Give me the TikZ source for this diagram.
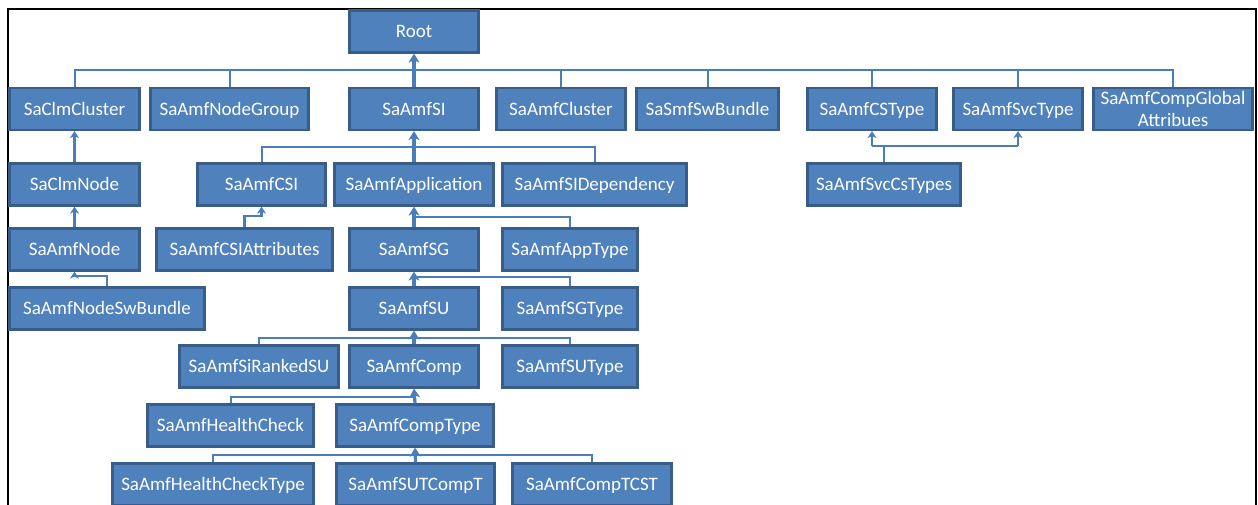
\documentclass[tikz,border=0pt]{standalone}
\usepackage{fontspec}
\setmainfont{Carlito}
\usetikzlibrary{arrows.meta}
\definecolor{boxfill}{HTML}{4F81BD}
\definecolor{boxline}{HTML}{385D8A}
\definecolor{linkcol}{HTML}{4A7EBB}
\tikzset{
  boxbase/.style={draw=boxline, fill=boxfill, line width=2.2pt, text=white,
    font=\fontsize{19}{22}\selectfont, inner sep=0pt, align=center,
    minimum height=42},
  box/.style={boxbase, text height=16pt, text depth=4pt},
  link/.style={draw=linkcol, line width=2pt},
  spine/.style={draw=linkcol, line width=3.2pt,
    -{Stealth[length=9pt,width=11pt,inset=2.5pt]}},
  arr/.style={draw=linkcol, line width=2.1pt,
    -{Stealth[length=7pt,width=9pt,inset=2pt]}},
}
\begin{document}
\begin{tikzpicture}[x=1pt,y=-1pt]
\path[use as bounding box] (0,0) rectangle (1258,504);
\clip (0,0) rectangle (1258,504);
\fill[white] (0,0) rectangle (1258,504);
% outer frame
\draw[black, line width=2.2pt] (8,520) -- (8,9) -- (1256,9) -- (1256,520);

% level 0
\node[box, minimum width=129] (root) at (414,31.5) {Root};

% level 1
\node[box, minimum width=130] (clmcluster) at (74.5,109) {SaClmCluster};
\node[box, minimum width=158] (nodegroup)  at (229.5,109) {SaAmfNodeGroup};
\node[box, minimum width=129] (si)         at (414,109) {SaAmfSI};
\node[box, minimum width=129] (cluster)    at (561,109) {SaAmfCluster};
\node[box, minimum width=142] (swbundle)   at (707.5,109) {SaSmfSwBundle};
\node[box, minimum width=129] (cstype)     at (872,109) {SaAmfCSType};
\node[box, minimum width=129] (svctype)    at (1018,109) {SaAmfSvcType};
\node[boxbase, minimum width=159] (compglobal) at (1173,109) {SaAmfCompGlobal\\Attribues};

% level 2
\node[box, minimum width=130] (clmnode)     at (74.5,184.5) {SaClmNode};
\node[box, minimum width=128] (csi)         at (261.5,184.5) {SaAmfCSI};
\node[box, minimum width=159] (application) at (414,184.5) {SaAmfApplication};
\node[box, minimum width=184] (sidep)       at (594.5,184.5) {SaAmfSIDependency};
\node[box, minimum width=153] (svccstypes)  at (884,184.5) {SaAmfSvcCsTypes};

% level 3
\node[box, minimum width=130] (amfnode) at (74.5,249.5) {SaAmfNode};
\node[box, minimum width=176] (csiattr) at (244.5,249.5) {SaAmfCSIAttributes};
\node[box, minimum width=129] (sg)      at (414,249.5) {SaAmfSG};
\node[box, minimum width=135] (apptype) at (570,249.5) {SaAmfAppType};

% level 4
\node[box, minimum width=195] (nodeswbundle) at (107,308.5) {SaAmfNodeSwBundle};
\node[box, minimum width=129] (su)           at (414,308.5) {SaAmfSU};
\node[box, minimum width=135] (sgtype)       at (570,308.5) {SaAmfSGType};

% level 5
\node[box, minimum width=159] (siranked) at (259,366.5) {SaAmfSiRankedSU};
\node[box, minimum width=129] (comp)     at (414,366.5) {SaAmfComp};
\node[box, minimum width=135] (sutype)   at (570,366.5) {SaAmfSUType};

% level 6
\node[box, minimum width=166] (healthcheck) at (230.5,425.5) {SaAmfHealthCheck};
\node[box, minimum width=157] (comptype)    at (415,425.5) {SaAmfCompType};

% level 7
\node[box, minimum width=201] (hctype)   at (213,484.5) {SaAmfHealthCheckType};
\node[box, minimum width=158] (sutcompt) at (415.5,484.5) {SaAmfSUTCompT};
\node[box, minimum width=159] (comptcst) at (592,484.5) {SaAmfCompTCST};

% bus under Root
\coordinate (b1) at (0,70);
\draw[link] (clmcluster.north) -- (clmcluster.north |- b1) -- (compglobal.north |- b1) -- (compglobal.north);
\foreach \n in {nodegroup,cluster,swbundle,cstype,svctype}
  \draw[link] (\n.north) -- (\n.north |- b1);
\draw[spine] (si.north) -- (root.south);

% bus under SaAmfSI
\coordinate (b2) at (0,147);
\draw[link] (csi.north) -- (csi.north |- b2) -- (sidep.north |- b2) -- (sidep.north);
\draw[spine] (application.north) -- (si.south);

% cluster node chain
\draw[arr] (clmnode.north) -- (clmcluster.south);
\draw[arr] (amfnode.north) -- (clmnode.south);
\draw[arr] (nodeswbundle.north) -- ++(0,-10) -| (amfnode.south);

% CSI attributes
\draw[arr] (csiattr.north) -- ++(0,-11) -| (csi.south);

% application subtree
\coordinate (b3) at (0,217);
\draw[link] (apptype.north) -- (apptype.north |- b3) -- (sg.north |- b3);
\draw[spine] (sg.north) -- (application.south);

\coordinate (b4) at (0,277);
\draw[link] (sgtype.north) -- (sgtype.north |- b4) -- (su.north |- b4);
\draw[spine] (su.north) -- (sg.south);

\coordinate (b5) at (0,338);
\draw[link] (siranked.north) -- (siranked.north |- b5) -- (sutype.north |- b5) -- (sutype.north);
\draw[spine] (comp.north) -- (su.south);

\coordinate (b6) at (0,397);
\draw[link] (healthcheck.north) -- (healthcheck.north |- b6) -- (comp.south |- b6);
\draw[spine] (comptype.north) -- (comp.south);

\coordinate (b7) at (0,455);
\draw[link] (hctype.north) -- (hctype.north |- b7) -- (comptcst.north |- b7) -- (comptcst.north);
\draw[spine] (sutcompt.north) -- (comptype.south);

% service type associations
\coordinate (b8) at (0,146);
\draw[link] (svccstypes.north) -- (svccstypes.north |- b8);
\draw[link] (cstype.south |- b8) -- (svctype.south |- b8);
\draw[arr] (cstype.south |- b8) -- (cstype.south);
\draw[arr] (svctype.south |- b8) -- (svctype.south);
\end{tikzpicture}
\end{document}
